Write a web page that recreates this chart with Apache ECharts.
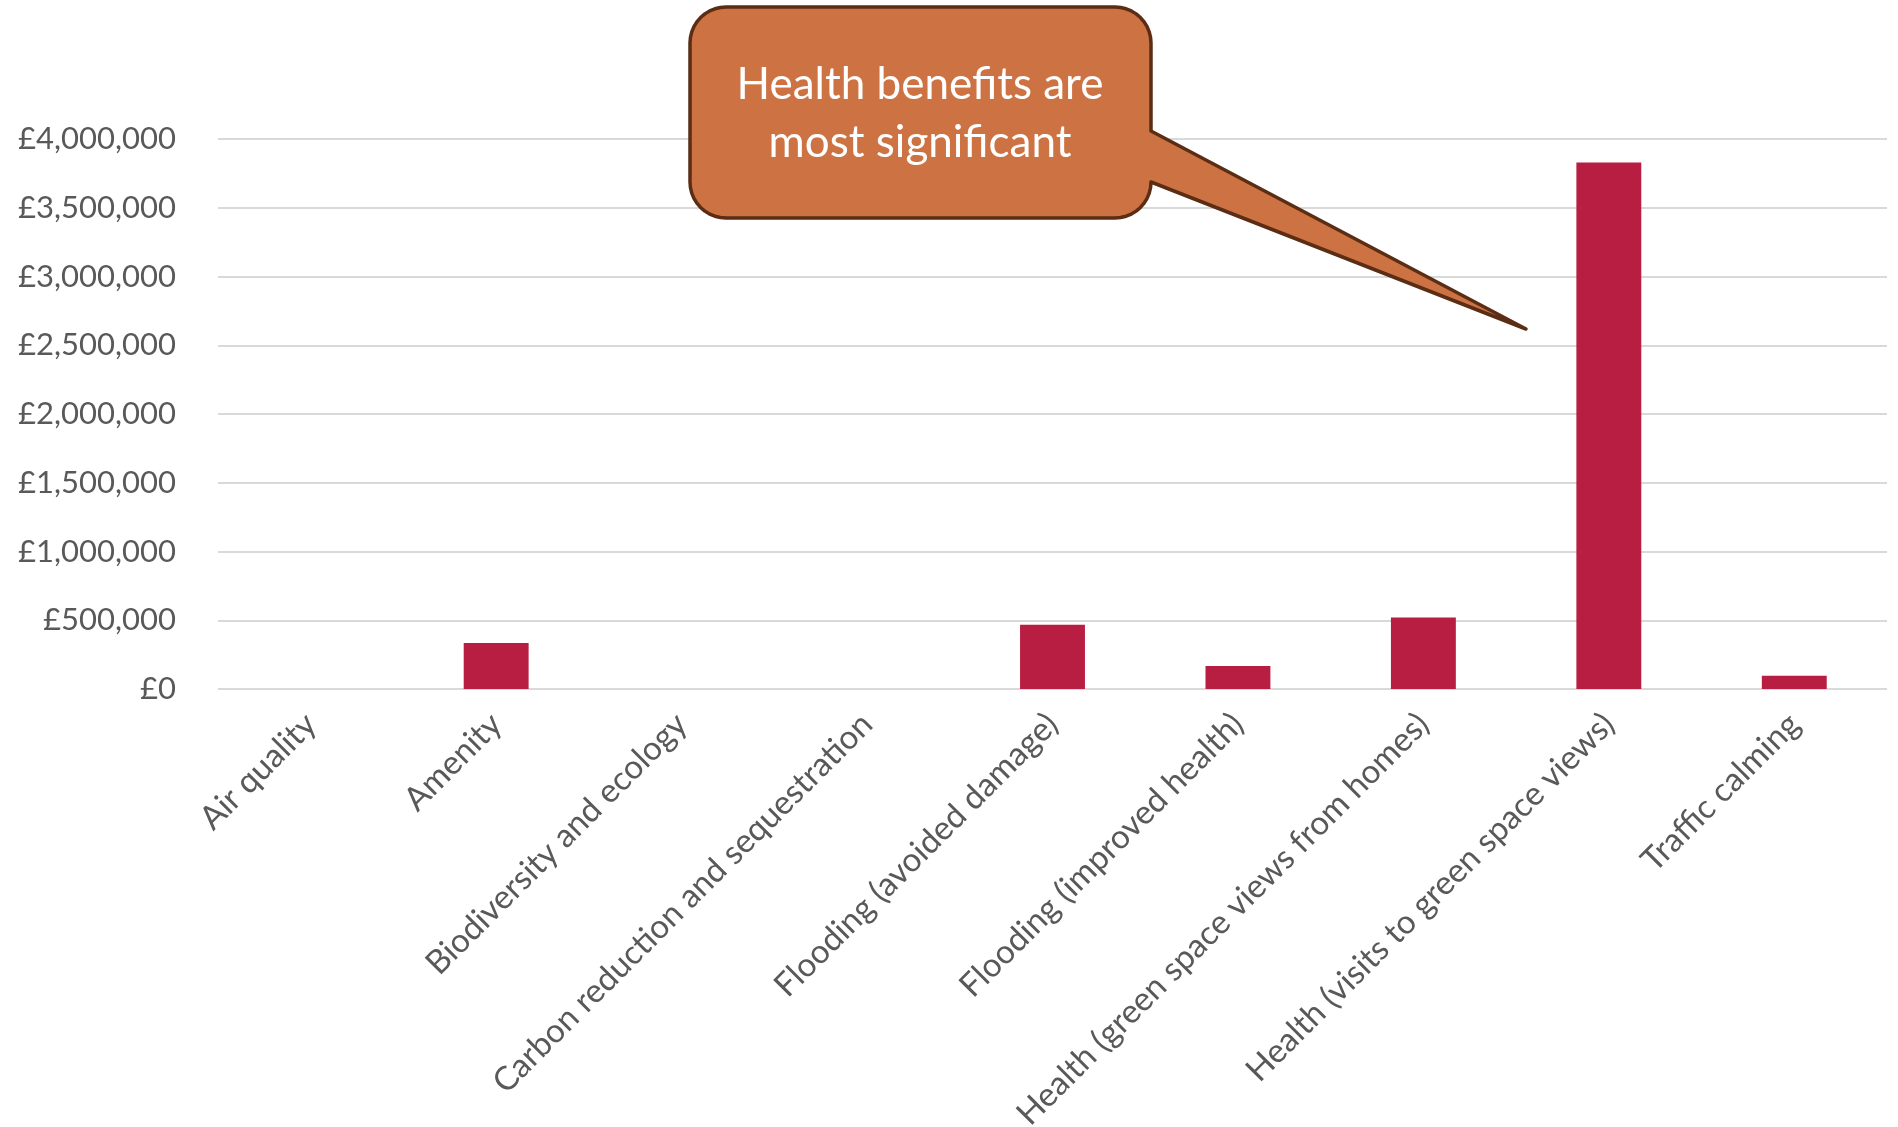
<!DOCTYPE html>
<html>
<head>
<meta charset="utf-8">
<script src="https://cdn.jsdelivr.net/npm/echarts@6/dist/echarts.min.js"></script>
<style>
html,body{margin:0;padding:0;background:#fff;}
#c{width:1898px;height:1127px;}
</style>
</head>
<body>
<div id="c"></div>
<script>
const categories = [
  'Air quality',
  'Amenity',
  'Biodiversity and ecology',
  'Carbon reduction and sequestration',
  'Flooding (avoided damage)',
  'Flooding (improved health)',
  'Health (green space views from homes)',
  'Health (visits to green space views)',
  'Traffic calming'
];
const values = [0, 335000, 0, 0, 468000, 168000, 520000, 3830000, 97000];
const yMin = 0, yMax = 4000000, yStep = 500000;
const calloutText = ['Health benefits are', 'most significant'];

const chart = echarts.init(document.getElementById('c'));
const fmt = v => '£' + v.toLocaleString('en-GB');
const FONT = 'Lato';

// callout outline (rounded box with a wedge pointer on the right)
const r = 36;
const x0 = 690, y0 = 7, x1 = 1151, y1 = 218;
const tip = [1526, 329];
const pb1 = 131, pb2 = 182;
function arc(cx, cy, a0, a1) {
  const pts = [];
  for (let i = 0; i <= 10; i++) {
    const a = (a0 + (a1 - a0) * i / 10) * Math.PI / 180;
    pts.push([cx + r * Math.cos(a), cy + r * Math.sin(a)]);
  }
  return pts;
}
const outline = [].concat(
  arc(x1 - r, y0 + r, -90, 0),
  [[x1, pb1], tip, [x1, pb2]],
  arc(x1 - r, y1 - r, 0, 90),
  arc(x0 + r, y1 - r, 90, 180),
  arc(x0 + r, y0 + r, 180, 270)
);

chart.setOption({
  animation: false,
  backgroundColor: '#ffffff',
  grid: { left: 218, right: 11, top: 139, bottom: 438, containLabel: false, outerBoundsMode: 'none' },
  xAxis: {
    type: 'category',
    data: categories,
    axisLine: { show: false },
    axisTick: { show: false },
    axisLabel: {
      interval: 0, rotate: 45, margin: 30,
      color: '#595959', fontFamily: FONT, fontSize: 33
    }
  },
  yAxis: {
    type: 'value',
    min: yMin, max: yMax, interval: yStep,
    axisLine: { show: false },
    axisTick: { show: false },
    splitLine: { lineStyle: { color: '#d9d9d9', width: 2 } },
    axisLabel: {
      margin: 42, formatter: fmt,
      color: '#595959', fontFamily: FONT, fontSize: 31
    }
  },
  series: [{
    type: 'bar',
    data: values,
    barWidth: '35%',
    itemStyle: { color: '#B81E42' }
  }],
  graphic: [
    {
      type: 'polygon',
      z: 100,
      shape: { points: outline },
      style: { fill: '#CD7242', stroke: '#5A2D14', lineWidth: 3.5, lineJoin: 'round' }
    },
    {
      type: 'text',
      z: 101,
      x: 920, y: 114,
      style: {
        text: calloutText.join('\n'),
        fill: '#ffffff',
        font: '44px Lato',
        lineHeight: 58,
        align: 'center',
        verticalAlign: 'middle'
      }
    }
  ]
});
</script>
</body>
</html>
